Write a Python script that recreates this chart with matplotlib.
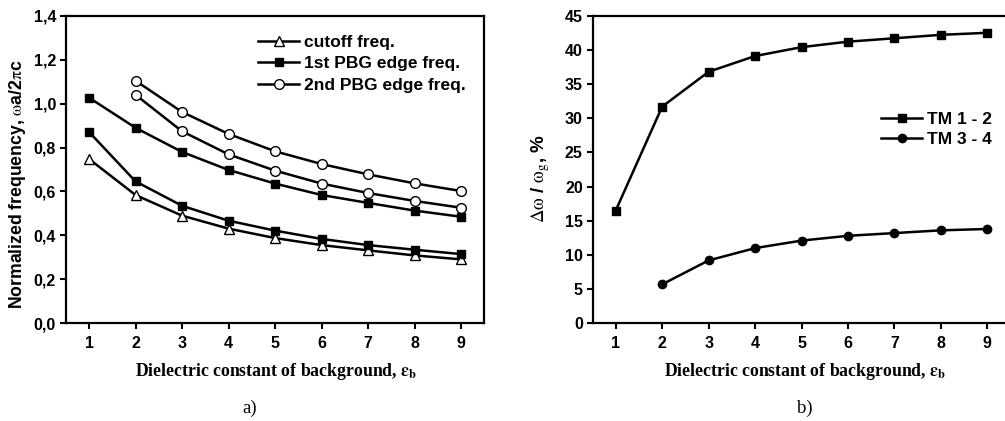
import numpy as np
import matplotlib
matplotlib.use("Agg")
import matplotlib.pyplot as plt

# Dielectric constant of the background
eps = [1, 2, 3, 4, 5, 6, 7, 8, 9]
eps2 = [2, 3, 4, 5, 6, 7, 8, 9]

# Panel a) normalized frequencies (omega a / 2 pi c)
cutoff = [0.748, 0.584, 0.490, 0.431, 0.388, 0.356, 0.332, 0.309, 0.291]
pbg1_low = [0.871, 0.646, 0.535, 0.467, 0.422, 0.384, 0.356, 0.335, 0.315]
pbg1_high = [1.027, 0.890, 0.780, 0.698, 0.636, 0.584, 0.548, 0.513, 0.485]
pbg2_low = [1.040, 0.874, 0.769, 0.695, 0.636, 0.593, 0.557, 0.526]
pbg2_high = [1.104, 0.962, 0.862, 0.783, 0.725, 0.678, 0.637, 0.602]

# Panel b) relative gap width, %
tm12 = [16.5, 31.7, 36.8, 39.1, 40.4, 41.2, 41.7, 42.2, 42.5]
tm34 = [5.7, 9.2, 11.0, 12.1, 12.8, 13.2, 13.6, 13.8]

yticks_a = [0.0, 0.2, 0.4, 0.6, 0.8, 1.0, 1.2, 1.4]
ytick_labels_a = ["0,0", "0,2", "0,4", "0,6", "0,8", "1,0", "1,2", "1,4"]
yticks_b = [0, 5, 10, 15, 20, 25, 30, 35, 40, 45]

plt.rcParams["mathtext.fontset"] = "stix"
SANS = "Liberation Sans"
SERIF = "Liberation Serif"
TICK_FS = 11.5

W, H = 1005, 421
fig = plt.figure(figsize=(W / 100, H / 100), dpi=100)

A_LEFT, A_RIGHT = 65.75, 484.25
B_LEFT, B_RIGHT = 592.5, 1010.6
TOP, BOTTOM = 15.7, 323.3


def px_axes(left, right):
    return fig.add_axes([left / W, 1 - BOTTOM / H, (right - left) / W, (BOTTOM - TOP) / H])


ax1 = px_axes(A_LEFT, A_RIGHT)
ax2 = px_axes(B_LEFT, B_RIGHT)

lw = 1.8
for ax in (ax1, ax2):
    for sp in ax.spines.values():
        sp.set_linewidth(1.6)
    ax.tick_params(direction="out", length=4, width=1.5)
    ax.tick_params(axis="x", pad=5)
    ax.tick_params(axis="y", pad=3)
    ax.set_xlim(0.5, 9.5)

# ---- panel a)
ax1.set_ylim(0, 1.4)
ax1.set_yticks(yticks_a)
ax1.set_yticklabels(ytick_labels_a, fontfamily=SANS, fontweight="bold", fontsize=TICK_FS)
ax1.set_xticks(eps)
ax1.set_xticklabels([str(v) for v in eps], fontfamily=SANS, fontweight="bold", fontsize=TICK_FS)

kw = dict(color="black", lw=lw, markeredgewidth=1.0, markeredgecolor="black")
l1, = ax1.plot(eps, cutoff, marker="^", markerfacecolor="white", markersize=7, **kw)
l2, = ax1.plot(eps, pbg1_low, marker="s", markerfacecolor="black", markersize=6, **kw)
ax1.plot(eps, pbg1_high, marker="s", markerfacecolor="black", markersize=6, **kw)
l3, = ax1.plot(eps2, pbg2_low, marker="o", markerfacecolor="white", markersize=7, **kw)
ax1.plot(eps2, pbg2_high, marker="o", markerfacecolor="white", markersize=7, **kw)

ax1.legend([l1, l2, l3], ["cutoff freq.", "1st PBG edge freq.", "2nd PBG edge freq."],
           loc="upper left", bbox_to_anchor=(249 / W, 1 - 26 / H), bbox_transform=fig.transFigure,
           frameon=False, borderpad=0, handlelength=2.4, handletextpad=0.25, labelspacing=0.36,
           prop=dict(family=SANS, weight="bold", size=12.5))

ax1.set_ylabel(r"Normalized frequency, $\mathrm{\omega}$a/2$\mathrm{\pi}$c", fontfamily=SANS,
               fontweight="bold", fontsize=12.7)
ax1.yaxis.set_label_coords((28 - A_LEFT) / (A_RIGHT - A_LEFT), (BOTTOM - 184) / (BOTTOM - TOP))
ax1.set_xlabel(r"Dielectric constant of background, $\mathbf{\varepsilon}_{\mathbf{b}}$",
               fontfamily=SERIF, fontweight="bold", fontsize=12.8)
ax1.xaxis.set_label_coords((276 - A_LEFT) / (A_RIGHT - A_LEFT), -(361 - BOTTOM) / (BOTTOM - TOP))

# ---- panel b)
ax2.set_ylim(0, 45)
ax2.set_yticks(yticks_b)
ax2.set_yticklabels([str(v) for v in yticks_b], fontfamily=SANS, fontweight="bold", fontsize=TICK_FS)
ax2.set_xticks(eps)
ax2.set_xticklabels([str(v) for v in eps], fontfamily=SANS, fontweight="bold", fontsize=TICK_FS)

m1, = ax2.plot(eps, tm12, marker="s", markerfacecolor="black", markersize=5.5, **kw)
m2, = ax2.plot(eps2, tm34, marker="o", markerfacecolor="black", markersize=6, **kw)
ax2.legend([m1, m2], ["TM 1 - 2", "TM 3 - 4"],
           loc="upper left", bbox_to_anchor=(872 / W, 1 - 103 / H), bbox_transform=fig.transFigure,
           frameon=False, borderpad=0, handlelength=2.4, handletextpad=0.25, labelspacing=0.3,
           prop=dict(family=SANS, weight="bold", size=12.5))

ax2.set_ylabel(r"$\mathrm{\Delta\omega}$ / $\mathrm{\omega}_\mathrm{g}$, %", fontfamily=SANS,
               fontweight="bold", fontsize=13.5)
ax2.yaxis.set_label_coords((552 - B_LEFT) / (B_RIGHT - B_LEFT), (BOTTOM - 178) / (BOTTOM - TOP))
ax2.set_xlabel(r"Dielectric constant of background, $\mathbf{\varepsilon}_{\mathbf{b}}$",
               fontfamily=SERIF, fontweight="bold", fontsize=12.8)
ax2.xaxis.set_label_coords((805 - B_LEFT) / (B_RIGHT - B_LEFT), -(361 - BOTTOM) / (BOTTOM - TOP))

# panel captions
fig.text(250 / W, 1 - 408 / H, "a)", ha="center", va="center", fontfamily=SERIF, fontsize=13.5)
fig.text(805 / W, 1 - 408 / H, "b)", ha="center", va="center", fontfamily=SERIF, fontsize=13.5)

fig.savefig("out.png", dpi=100)
